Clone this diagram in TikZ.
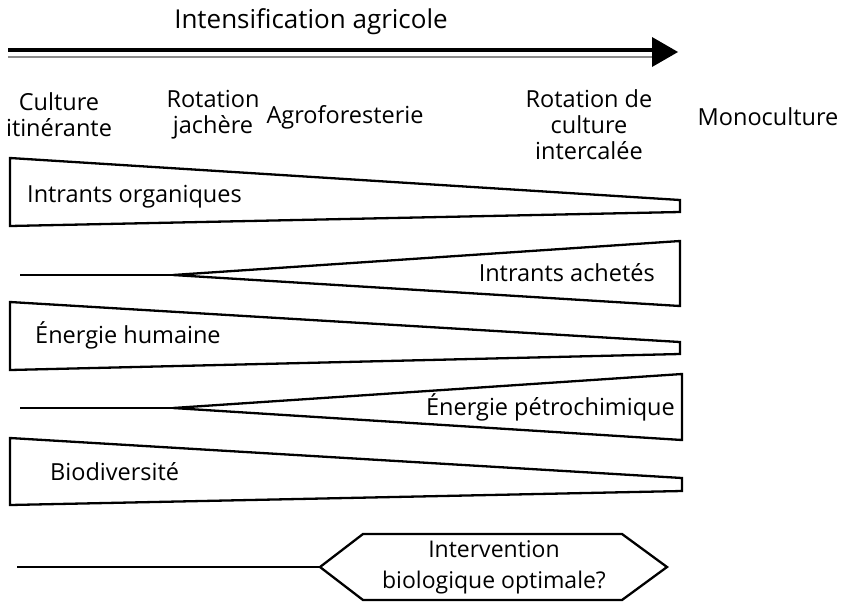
\documentclass[tikz,border=0pt]{standalone}
\usepackage{fontspec}
\setmainfont{Open Sans}
\usetikzlibrary{calc}
\tikzset{
  wedge/.style={line width=2.3pt, line join=miter, fill=white},
  lbl/.style={inner sep=0pt, font=\fontsize{23.5}{26}\selectfont},
  col/.style={lbl, align=center},
}

\begin{document}
\begin{tikzpicture}[x=1pt, y=-1pt]
		%%%%% START %%%%%
		\useasboundingbox (0, 0) rectangle (843, 603);
		
		% main arrow
		\node[lbl, anchor=base, font=\fontsize{26}{30}\selectfont] (titre) at (311, 28) {Intensification agricole};
		\draw[line width=4pt] (8, 50) -- (655, 50);
		\draw[line width=2pt, color=black!45] (8, 56.5) -- (655, 56.5);
		\fill[black] (652, 37) -- (678, 52) -- (652, 67) -- cycle;
		
		% systemes
		\node[col] (itin) at (59, 115) {Culture\\itinérante};
		\node[col] (jach) at (213, 115) {Rotation\\jachère};
		\node[col] (agro) at (345, 117) {Agroforesterie};
		\node[col] (inter) at (589, 125) {Rotation de\\culture\\intercalée};
		\node[col] (mono) at (768, 117) {Monoculture};
		
		% intrants organiques
		\draw[wedge] (10, 158) -- (680, 200) -- (680, 212) -- (10, 226) -- cycle;
		\node[lbl, anchor=base west] (org) at (27, 202) {Intrants organiques};
		
		% intrants achetes
		\draw[wedge] (20, 275) -- (173, 275);
		\draw[wedge] (173, 275) -- (680, 241) -- (680, 306) -- cycle;
		\node[lbl, anchor=base east] (ach) at (655, 281) {Intrants achetés};
		
		% energie humaine
		\draw[wedge] (10, 302) -- (680, 342) -- (680, 354) -- (10, 370) -- cycle;
		\node[lbl, anchor=base west] (hum) at (35, 343) {Énergie humaine};
		
		% energie petrochimique
		\draw[wedge] (20, 408) -- (173, 408);
		\draw[wedge] (173, 408) -- (682, 374) -- (682, 440) -- cycle;
		\node[lbl, anchor=base east] (petro) at (675, 415) {Énergie pétrochimique};
		
		% biodiversite
		\draw[wedge] (10, 438) -- (682, 478) -- (682, 491) -- (10, 505) -- cycle;
		\node[lbl, anchor=base west] (bio) at (50, 480) {Biodiversité};
		
		% intervention biologique
		\coordinate (debut) at (17, 567);
		\draw[wedge] (320, 567) -- (363, 534) -- (622, 534) -- (667, 567) -- (622, 600) -- (363, 600) -- cycle;
		\coordinate (pointe) at (320, 567);
		\node[col, font=\fontsize{23}{31}\selectfont] (optim) at (494, 567) {Intervention\\biologique optimale?};
		\draw[wedge] (debut) -- (pointe);
		
		%%%%% END %%%%%
\end{tikzpicture}
\end{document}
